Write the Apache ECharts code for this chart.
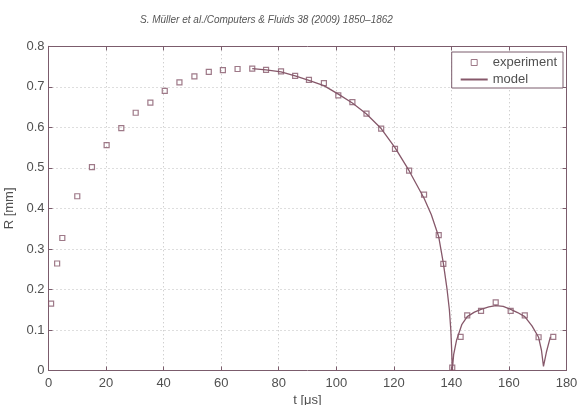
<!DOCTYPE html>
<html>
<head>
<meta charset="utf-8">
<script src="https://cdn.jsdelivr.net/npm/echarts@6/dist/echarts.min.js"></script>
<style>
  html, body { margin: 0; padding: 0; background: #fff; }
  #chart { width: 577px; height: 405px; }
</style>
</head>
<body>
<div id="chart"></div>
<script>
// experiment: t [us], R [mm]
const expT = [0.9, 3.0, 4.8, 10.0, 15.1, 20.2, 25.3, 30.3, 35.4, 40.4, 45.5, 50.7, 55.7, 60.6,
  65.7, 70.8, 75.6, 80.8, 85.7, 90.5, 95.7, 100.7, 105.6, 110.5, 115.6, 120.4, 125.3, 130.5,
  135.6, 137.2, 140.3, 143.2, 145.5, 150.3, 155.4, 160.6, 165.5, 170.3, 175.4];
const expR = [0.165, 0.264, 0.327, 0.430, 0.502, 0.556, 0.598, 0.636, 0.661, 0.690, 0.711, 0.726,
  0.737, 0.741, 0.744, 0.745, 0.742, 0.738, 0.727, 0.717, 0.709, 0.679, 0.662, 0.634, 0.597,
  0.547, 0.493, 0.434, 0.334, 0.263, 0.007, 0.083, 0.136, 0.147, 0.168, 0.147, 0.136, 0.082, 0.083];

// model curve
const modelT = [70.8, 75.6, 80.8, 85.7, 90.5, 95.7, 100.7, 105.6, 110.5, 115.6, 120.4, 125.3,
  130.5, 133.0, 135.6, 137.2, 138.5, 139.3, 139.8, 140.1, 140.3, 140.8, 141.8, 143.6, 145.5,
  148.0, 150.3, 153.0, 155.4, 158.0, 160.6, 163.0, 165.5, 168.0, 170.3, 171.3, 172.0, 173.0, 174.4];
const modelR = [0.745, 0.742, 0.737, 0.727, 0.716, 0.703, 0.682, 0.660, 0.633, 0.597, 0.550, 0.493,
  0.425, 0.385, 0.330, 0.265, 0.200, 0.150, 0.100, 0.050, 0.000, 0.040, 0.075, 0.113, 0.133,
  0.144, 0.151, 0.157, 0.160, 0.158, 0.151, 0.143, 0.133, 0.110, 0.082, 0.050, 0.010, 0.045, 0.083];

const xTicks = { min: 0, max: 180, interval: 20 };
const yTicks = { min: 0, max: 0.8, interval: 0.1 };

const axisColor = "#7b5c6c";
const dataColor = "#86586a";
const textColor = "#505050";
const font = "Liberation Sans";

const zip = (a, b) => a.map((v, i) => [v, b[i]]);

const chart = echarts.init(document.getElementById("chart"));

const baseAxis = {
  type: "value",
  axisLine: { show: true, onZero: false, lineStyle: { color: axisColor, width: 1 } },
  axisTick: { show: true, inside: true, length: 4, lineStyle: { color: axisColor } },
};

chart.setOption({
  animation: false,
  title: {
    text: "S. Müller et al./Computers & Fluids 38 (2009) 1850–1862",
    left: 135,
    top: 10,
    textStyle: { fontFamily: font, fontStyle: "italic", fontWeight: "normal", fontSize: 10, color: "#555" },
  },
  grid: { left: 48.5, right: 10.5, top: 46.3, bottom: 34.5, outerBoundsMode: "none" },
  legend: {
    orient: "vertical",
    right: 14,
    top: 52,
    itemWidth: 27,
    itemHeight: 6,
    itemGap: 4,
    padding: [4, 6, 2, 8],
    borderColor: axisColor,
    borderWidth: 1,
    backgroundColor: "#fff",
    textStyle: { fontFamily: font, fontSize: 13, color: textColor },
    data: [
      {
        name: "experiment",
        icon: "path://M0,0L10,0L10,10L0,10Z",
        itemStyle: { color: "#fff", borderColor: dataColor, borderWidth: 1 },
      },
      { name: "model", itemStyle: { color: "transparent", borderWidth: 0, opacity: 0 } },
    ],
  },
  xAxis: [
    {
      ...baseAxis,
      ...xTicks,
      position: "bottom",
      name: "t [μs]",
      nameLocation: "middle",
      nameGap: 19,
      nameTextStyle: { fontFamily: font, fontSize: 13, color: textColor },
      axisLabel: { fontFamily: font, fontSize: 13, color: textColor, margin: 6 },
      splitLine: { show: true, lineStyle: { color: "#bdbdbd", type: [1, 3] } },
    },
    {
      ...baseAxis,
      ...xTicks,
      position: "top",
      axisLabel: { show: false },
      splitLine: { show: false },
    },
  ],
  yAxis: [
    {
      ...baseAxis,
      ...yTicks,
      position: "left",
      name: "R [mm]",
      nameLocation: "middle",
      nameGap: 24,
      nameTextStyle: { fontFamily: font, fontSize: 13, color: textColor },
      axisLabel: { fontFamily: font, fontSize: 13, color: textColor, margin: 4 },
      splitLine: { show: true, lineStyle: { color: "#bdbdbd", type: [1, 3] } },
    },
    {
      ...baseAxis,
      ...yTicks,
      position: "right",
      axisLabel: { show: false },
      splitLine: { show: false },
    },
  ],
  series: [
    {
      name: "model",
      type: "line",
      data: zip(modelT, modelR),
      symbol: "none",
      smooth: false,
      lineStyle: { color: dataColor, width: 1.3 },
      itemStyle: { color: dataColor },
      z: 2,
    },
    {
      name: "experiment",
      type: "scatter",
      data: zip(expT, expR),
      symbol: "rect",
      symbolSize: 5,
      itemStyle: { color: "transparent", borderColor: dataColor, borderWidth: 1.2 },
      z: 3,
    },
  ],
});
</script>
</body>
</html>
